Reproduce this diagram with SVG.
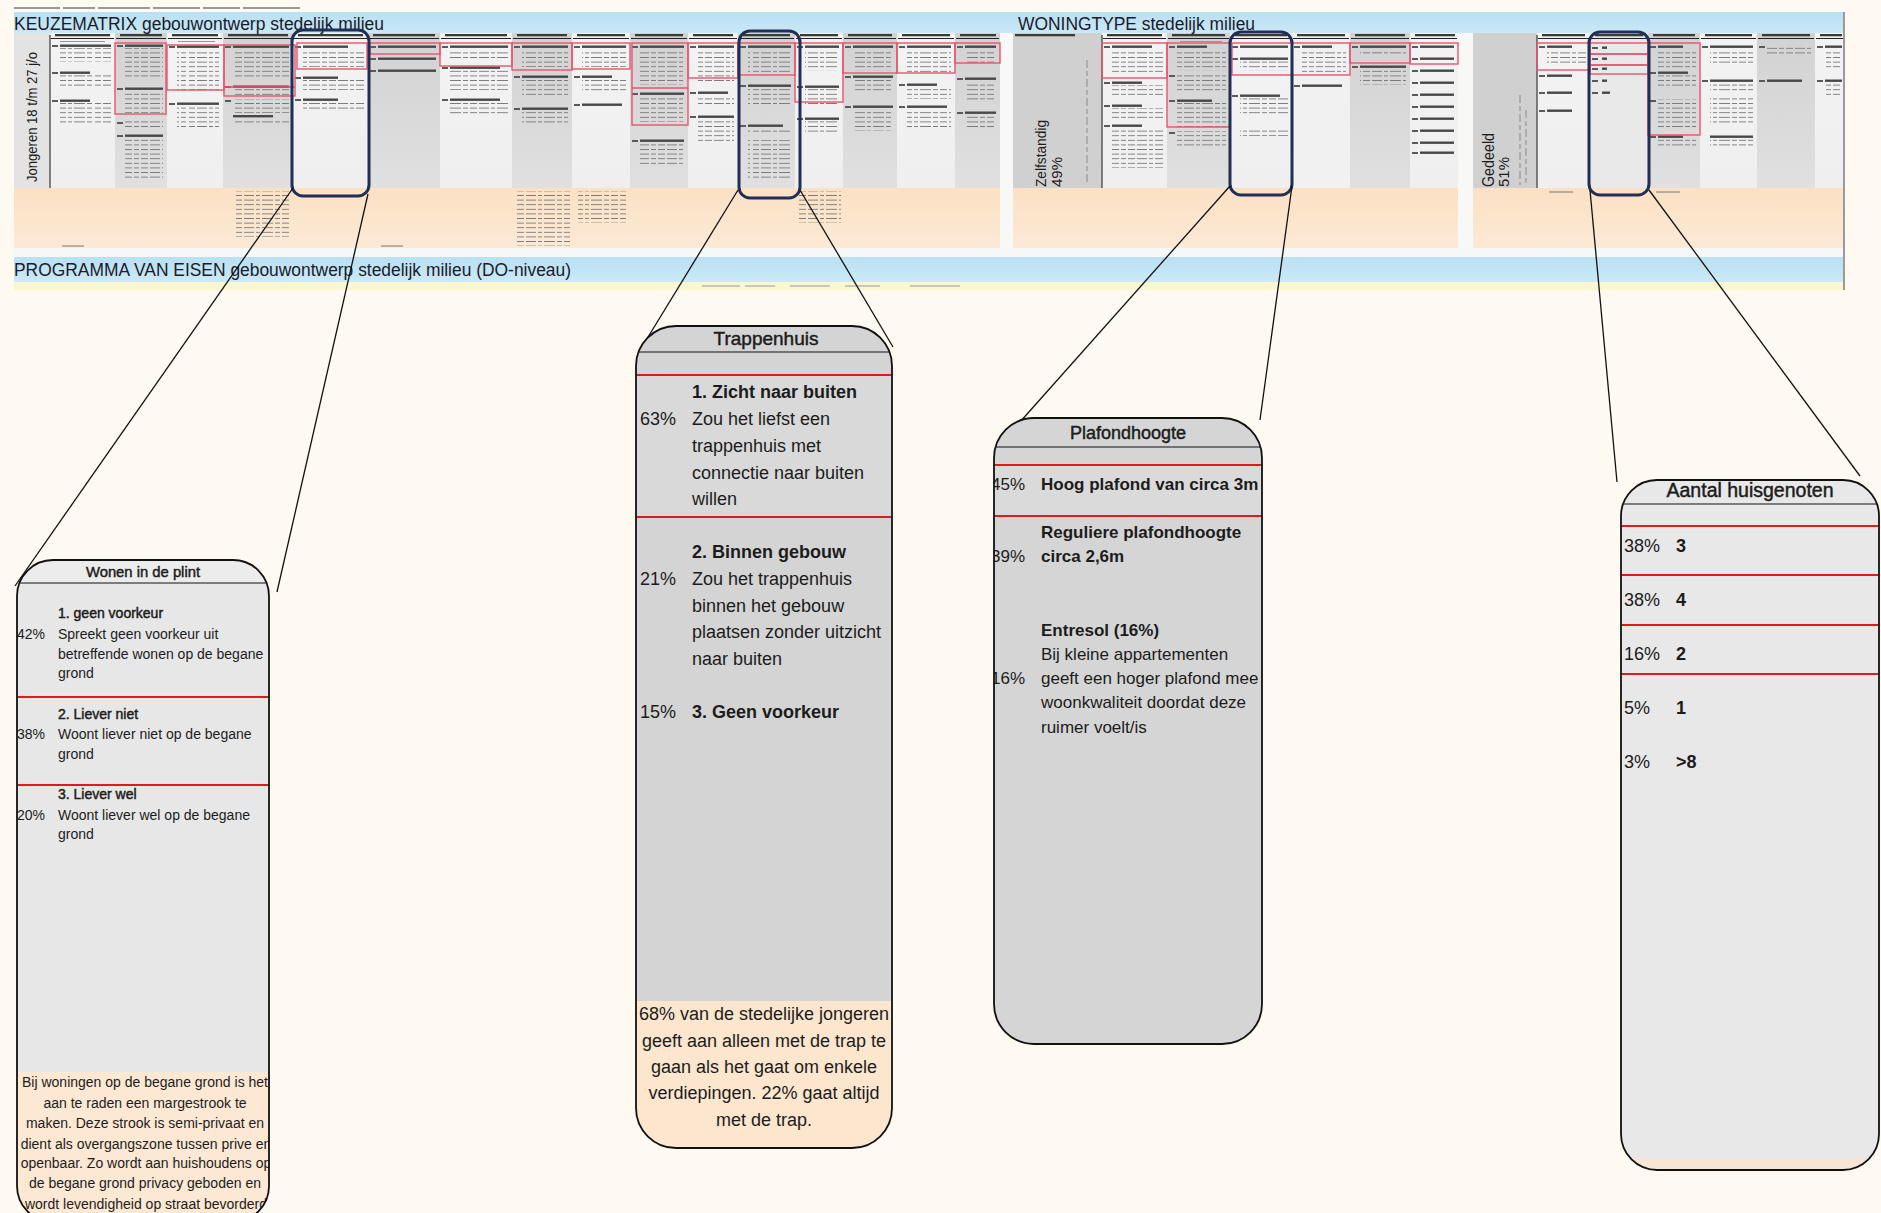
<svg xmlns="http://www.w3.org/2000/svg" width="1881" height="1213" viewBox="0 0 1881 1213">
<defs>
<style>
.f{font-family:"Liberation Sans",Arial,Helvetica,sans-serif;fill:#1c1c1c}
.b{font-weight:bold}
.m{stroke:#1c1c1c;stroke-width:0.45}
.tt{font-size:17.5px;fill:#1b1b2b}
.cl{fill:none;stroke:#111;stroke-width:1.3}
.hl{fill:none;stroke:#1f2f57;stroke-width:3}
.rb{fill:none;stroke:#e8536f;stroke-width:1.4}
.rl{stroke:#e01b1b;stroke-width:2}
.hline{stroke:#111;stroke-width:1.2}
.box{fill:none;stroke:#111;stroke-width:1.8}
.pc{fill:#5a5a5a}
.tb{fill:#484848}
.hb{fill:#3a3a3a}
.tx{fill:url(#tx)}
.ul{stroke:#222;stroke-width:1}
.w{fill:url(#wcol)}
.g{fill:url(#gcol)}
.pe{fill:url(#peach)}
</style>
<pattern id="tx" patternUnits="userSpaceOnUse" width="47" height="4.6">
<path d="M0 2.3H7M9 2.3H19M21 2.3H25M27 2.3H38M40 2.3H45" stroke="#7c7c7c" stroke-width="1.1"/>
</pattern>
<linearGradient id="gcol" x1="0" y1="0" x2="0" y2="1"><stop offset="0" stop-color="#d2d2d2"/><stop offset="1" stop-color="#e0e0e0"/></linearGradient>
<linearGradient id="wcol" x1="0" y1="0" x2="0" y2="1"><stop offset="0" stop-color="#f3f3f3"/><stop offset="1" stop-color="#efefef"/></linearGradient>
<linearGradient id="peach" x1="0" y1="0" x2="0" y2="1"><stop offset="0" stop-color="#fbe1c4"/><stop offset="1" stop-color="#fce9d6"/></linearGradient>
<linearGradient id="blue" x1="0" y1="0" x2="0" y2="1"><stop offset="0" stop-color="#b9e0f3"/><stop offset="1" stop-color="#cce9f6"/></linearGradient>
<clipPath id="clipA"><rect x="17" y="560" width="252" height="662" rx="36"/></clipPath>
<clipPath id="clipB"><rect x="636" y="326" width="256" height="822" rx="40"/></clipPath>
<clipPath id="clipC"><rect x="994" y="418" width="268" height="626" rx="40"/></clipPath>
<clipPath id="clipD"><rect x="1621" y="480" width="258" height="690" rx="36"/></clipPath>
</defs>

<rect width="1881" height="1213" fill="#fefaf1"/>

<g id="matrix">
<path d="M14 8H60M63 8H95M98 8H150M153 8H200M203 8H240M243 8H300" stroke="#7a7a7a" stroke-width="1.4"/>
<rect x="14" y="12" width="1830" height="24" fill="url(#blue)"/>
<rect x="14" y="248" width="1830" height="9" fill="#f6f8f8"/>
<rect x="14" y="257" width="1830" height="25" fill="url(#blue)"/>
<rect x="14" y="282" width="1830" height="8" fill="#faf6d2"/>
<path d="M702 286H740M745 286H775M790 286H830M845 286H880M910 286H960" stroke="#999" stroke-width="1.2"/>
<line x1="1844" y1="12" x2="1844" y2="290" stroke="#9a9a9a" stroke-width="2"/>

<rect x="1000" y="33" width="13" height="215" fill="#f8f8f6"/>
<rect x="1458" y="33" width="15" height="215" fill="#f8f8f6"/>

<!-- panel 1 -->
<rect x="14" y="33" width="36" height="155" fill="#e3e3e3"/>
<rect x="50" y="33" width="65" height="155" class="w"/>
<rect x="115" y="33" width="52" height="155" class="g"/>
<rect x="167" y="33" width="56" height="155" class="w"/>
<rect x="223" y="33" width="70" height="155" class="g"/>
<rect x="293" y="33" width="75" height="155" class="w"/>
<rect x="368" y="33" width="72" height="155" class="g"/>
<rect x="440" y="33" width="72" height="155" class="w"/>
<rect x="512" y="33" width="60" height="155" class="g"/>
<rect x="572" y="33" width="58" height="155" class="w"/>
<rect x="630" y="33" width="58" height="155" class="g"/>
<rect x="688" y="33" width="50" height="155" class="w"/>
<rect x="738" y="33" width="57" height="155" class="g"/>
<rect x="795" y="33" width="48" height="155" class="w"/>
<rect x="843" y="33" width="54" height="155" class="g"/>
<rect x="897" y="33" width="58" height="155" class="w"/>
<rect x="955" y="33" width="45" height="155" class="g"/>
<rect x="14" y="188" width="986" height="60" class="pe"/>
<line x1="50" y1="35" x2="50" y2="188" stroke="#444" stroke-width="1.3"/>
<text class="f" font-size="15.5" fill="#333" transform="translate(37 182) rotate(-90)" textLength="130" lengthAdjust="spacingAndGlyphs">Jongeren 18 t/m 27 j/o</text>

<!-- panel 2 -->
<rect x="1013" y="33" width="89" height="155" fill="#d0d0d0"/>
<rect x="1102" y="33" width="65" height="155" class="w"/>
<rect x="1167" y="33" width="63" height="155" class="g"/>
<rect x="1230" y="33" width="62" height="155" class="w"/>
<rect x="1292" y="33" width="58" height="155" fill="#f1f1f1"/>
<rect x="1350" y="33" width="60" height="155" class="g"/>
<rect x="1410" y="33" width="48" height="155" class="w"/>
<rect x="1013" y="188" width="445" height="60" class="pe"/>
<line x1="1102" y1="35" x2="1102" y2="188" stroke="#444" stroke-width="1.3"/>
<path d="M1087 60V185" stroke="#8a8a8a" stroke-width="1" stroke-dasharray="8 3 5 3"/>
<text class="f" font-size="15.5" fill="#333" transform="translate(1046 187) rotate(-90)" textLength="67" lengthAdjust="spacingAndGlyphs">Zelfstandig</text>
<text class="f" font-size="15" fill="#333" transform="translate(1062 187) rotate(-90)">49%</text>

<!-- panel 3 -->
<rect x="1473" y="33" width="64" height="155" fill="#d0d0d0"/>
<rect x="1537" y="33" width="53" height="155" class="w"/>
<rect x="1590" y="33" width="58" height="155" fill="#e9e9e9"/>
<rect x="1648" y="33" width="52" height="155" class="g"/>
<rect x="1700" y="33" width="57" height="155" class="w"/>
<rect x="1757" y="33" width="58" height="155" class="g"/>
<rect x="1815" y="33" width="28" height="155" class="w"/>
<rect x="1473" y="188" width="370" height="60" class="pe"/>
<line x1="1537" y1="35" x2="1537" y2="188" stroke="#444" stroke-width="1.3"/>
<path d="M1520 95V185M1526 110V185" stroke="#8a8a8a" stroke-width="1" stroke-dasharray="8 3 5 3"/>
<text class="f" font-size="16" fill="#333" transform="translate(1494 187) rotate(-90)" textLength="54" lengthAdjust="spacingAndGlyphs">Gedeeld</text>
<text class="f" font-size="15" fill="#333" transform="translate(1509 187) rotate(-90)">51%</text>

<!-- column headers -->
<g class="hb">
<rect x="55" y="34" width="55" height="2.3"/><rect x="120" y="34" width="42" height="2.3"/><rect x="172" y="34" width="46" height="2.3"/><rect x="228" y="34" width="60" height="2.3"/><rect x="298" y="34" width="65" height="2.3"/><rect x="373" y="34" width="62" height="2.3"/><rect x="445" y="34" width="62" height="2.3"/><rect x="517" y="34" width="50" height="2.3"/><rect x="577" y="34" width="48" height="2.3"/><rect x="635" y="34" width="48" height="2.3"/><rect x="693" y="34" width="40" height="2.3"/><rect x="743" y="34" width="47" height="2.3"/><rect x="800" y="34" width="38" height="2.3"/><rect x="848" y="34" width="44" height="2.3"/><rect x="902" y="34" width="48" height="2.3"/><rect x="960" y="34" width="36" height="2.3"/>
<rect x="1015" y="34" width="60" height="2.3"/><rect x="1107" y="34" width="55" height="2.3"/><rect x="1172" y="34" width="53" height="2.3"/><rect x="1235" y="34" width="52" height="2.3"/><rect x="1297" y="34" width="48" height="2.3"/><rect x="1355" y="34" width="50" height="2.3"/><rect x="1415" y="34" width="40" height="2.3"/>
<rect x="1542" y="34" width="43" height="2.3"/><rect x="1595" y="34" width="48" height="2.3"/><rect x="1653" y="34" width="42" height="2.3"/><rect x="1705" y="34" width="47" height="2.3"/><rect x="1762" y="34" width="48" height="2.3"/><rect x="1820" y="34" width="22" height="2.3"/>
</g>
<path class="ul" d="M51 38.5H114M116 38.5H166M168 38.5H222M224 38.5H292M294 38.5H367M369 38.5H439M441 38.5H511M513 38.5H571M573 38.5H629M631 38.5H687M689 38.5H737M739 38.5H794M796 38.5H842M844 38.5H896M898 38.5H954M956 38.5H999M1103 38.5H1166M1168 38.5H1229M1231 38.5H1291M1293 38.5H1349M1351 38.5H1409M1411 38.5H1457M1538 38.5H1589M1591 38.5H1647M1649 38.5H1699M1701 38.5H1756M1758 38.5H1814M1816 38.5H1843"/>
<path d="M60 41.5H105M178 41.5H215M1180 41.5H1222" stroke="#999" stroke-width="1"/>

<g>
<rect class="pc" x="52" y="45" width="6" height="2"/><rect class="tb" x="60" y="44.5" width="51" height="2.4"/><rect class="tx" x="60" y="48" width="51" height="14"/>
<rect class="pc" x="52" y="72" width="6" height="2"/><rect class="tb" x="60" y="71.5" width="30" height="2.4"/><rect class="tx" x="60" y="75" width="51" height="14"/>
<rect class="pc" x="52" y="100" width="6" height="2"/><rect class="tb" x="60" y="99.5" width="30" height="2.4"/><rect class="tx" x="60" y="103" width="51" height="20"/>

<rect class="pc" x="117" y="45" width="6" height="2"/><rect class="tb" x="125" y="44.5" width="38" height="2.4"/><rect class="tx" x="125" y="48" width="38" height="30"/>
<rect class="pc" x="117" y="88" width="6" height="2"/><rect class="tb" x="125" y="87.5" width="38" height="2.4"/><rect class="tx" x="125" y="91" width="38" height="22"/>
<rect class="pc" x="117" y="122" width="6" height="2"/><rect class="tx" x="125" y="121" width="38" height="9"/>
<rect class="pc" x="117" y="135" width="6" height="2"/><rect class="tb" x="125" y="134.5" width="38" height="2.4"/><rect class="tx" x="125" y="138" width="38" height="40"/>

<rect class="pc" x="169" y="46" width="6" height="2"/><rect class="tb" x="177" y="45.5" width="42" height="2.4"/><rect class="tx" x="177" y="49" width="42" height="42"/>
<rect class="pc" x="169" y="103" width="6" height="2"/><rect class="tb" x="177" y="102.5" width="42" height="2.4"/><rect class="tx" x="177" y="106" width="42" height="22"/>

<rect class="pc" x="225" y="46" width="6" height="2"/><rect class="tb" x="233" y="45.5" width="56" height="2.4"/><rect class="tx" x="233" y="49" width="56" height="30"/>
<rect class="pc" x="225" y="86" width="6" height="2"/><rect class="tb" x="233" y="85.5" width="56" height="2.4"/><rect class="tx" x="233" y="89" width="56" height="8"/>
<rect class="pc" x="225" y="100" width="6" height="2"/><rect class="tx" x="233" y="99" width="56" height="14"/>
<rect class="tb" x="233" y="115" width="40" height="2.4"/><rect class="tx" x="233" y="118" width="56" height="5"/>

<rect class="pc" x="295" y="46" width="6" height="2"/><rect class="tb" x="303" y="45.5" width="45" height="2.4"/><rect class="tx" x="303" y="49" width="61" height="18"/>
<rect class="pc" x="295" y="77" width="6" height="2"/><rect class="tb" x="303" y="76.5" width="35" height="2.4"/><rect class="tx" x="303" y="80" width="61" height="10"/>
<rect class="pc" x="295" y="99" width="6" height="2"/><rect class="tb" x="303" y="98.5" width="35" height="2.4"/><rect class="tx" x="303" y="102" width="61" height="10"/>

<rect class="pc" x="370" y="46" width="6" height="2"/><rect class="tb" x="378" y="45.5" width="58" height="2.4"/>
<rect class="pc" x="370" y="58" width="6" height="2"/><rect class="tb" x="378" y="57.5" width="58" height="2.4"/>
<rect class="pc" x="370" y="70" width="6" height="2"/><rect class="tb" x="378" y="69.5" width="58" height="2.4"/>

<rect class="pc" x="442" y="46" width="6" height="2"/><rect class="tb" x="450" y="45.5" width="58" height="2.4"/><rect class="tx" x="450" y="49" width="58" height="10"/>
<rect class="pc" x="442" y="67" width="6" height="2"/><rect class="tb" x="450" y="66.5" width="50" height="2.4"/><rect class="tx" x="450" y="70" width="58" height="20"/>
<rect class="pc" x="442" y="99" width="6" height="2"/><rect class="tb" x="450" y="98.5" width="50" height="2.4"/><rect class="tx" x="450" y="102" width="58" height="14"/>

<rect class="pc" x="514" y="46" width="6" height="2"/><rect class="tb" x="522" y="45.5" width="46" height="2.4"/><rect class="tx" x="522" y="49" width="46" height="18"/>
<rect class="pc" x="514" y="76" width="6" height="2"/><rect class="tb" x="522" y="75.5" width="46" height="2.4"/><rect class="tx" x="522" y="79" width="46" height="18"/>
<rect class="pc" x="514" y="108" width="6" height="2"/><rect class="tb" x="522" y="107.5" width="46" height="2.4"/><rect class="tx" x="522" y="111" width="46" height="14"/>

<rect class="pc" x="574" y="46" width="6" height="2"/><rect class="tb" x="582" y="45.5" width="44" height="2.4"/><rect class="tx" x="582" y="49" width="44" height="18"/>
<rect class="pc" x="574" y="76" width="6" height="2"/><rect class="tb" x="582" y="75.5" width="30" height="2.4"/><rect class="tx" x="582" y="79" width="44" height="12"/>
<rect class="pc" x="574" y="104" width="6" height="2"/><rect class="tb" x="582" y="103.5" width="40" height="2.4"/>

<rect class="pc" x="632" y="46" width="6" height="2"/><rect class="tb" x="640" y="45.5" width="44" height="2.4"/><rect class="tx" x="640" y="49" width="44" height="36"/>
<rect class="pc" x="632" y="93" width="6" height="2"/><rect class="tb" x="640" y="92.5" width="44" height="2.4"/><rect class="tx" x="640" y="96" width="44" height="26"/>
<rect class="pc" x="632" y="140" width="6" height="2"/><rect class="tb" x="640" y="139.5" width="44" height="2.4"/><rect class="tx" x="640" y="143" width="44" height="22"/>

<rect class="pc" x="690" y="46" width="6" height="2"/><rect class="tb" x="698" y="45.5" width="36" height="2.4"/><rect class="tx" x="698" y="49" width="36" height="34"/>
<rect class="pc" x="690" y="92" width="6" height="2"/><rect class="tb" x="698" y="91.5" width="30" height="2.4"/><rect class="tx" x="698" y="95" width="36" height="10"/>
<rect class="pc" x="690" y="116" width="6" height="2"/><rect class="tb" x="698" y="115.5" width="36" height="2.4"/><rect class="tx" x="698" y="119" width="36" height="22"/>

<rect class="pc" x="740" y="46" width="6" height="2"/><rect class="tb" x="748" y="45.5" width="43" height="2.4"/><rect class="tx" x="748" y="49" width="43" height="24"/>
<rect class="pc" x="740" y="85" width="6" height="2"/><rect class="tb" x="748" y="84.5" width="43" height="2.4"/><rect class="tx" x="748" y="88" width="43" height="18"/>
<rect class="pc" x="740" y="125" width="6" height="2"/><rect class="tb" x="748" y="124.5" width="35" height="2.4"/><rect class="tx" x="748" y="128" width="43" height="4"/>
<rect class="tx" x="748" y="140" width="43" height="40"/>

<rect class="pc" x="797" y="46" width="6" height="2"/><rect class="tb" x="805" y="45.5" width="34" height="2.4"/><rect class="tx" x="805" y="49" width="34" height="22"/>
<rect class="pc" x="797" y="86" width="6" height="2"/><rect class="tb" x="805" y="85.5" width="34" height="2.4"/><rect class="tx" x="805" y="89" width="34" height="18"/>
<rect class="pc" x="797" y="118" width="6" height="2"/><rect class="tb" x="805" y="117.5" width="34" height="2.4"/><rect class="tx" x="805" y="121" width="34" height="14"/>

<rect class="pc" x="845" y="46" width="6" height="2"/><rect class="tb" x="853" y="45.5" width="40" height="2.4"/><rect class="tx" x="853" y="49" width="40" height="22"/>
<rect class="pc" x="845" y="76" width="6" height="2"/><rect class="tb" x="853" y="75.5" width="40" height="2.4"/><rect class="tx" x="853" y="79" width="40" height="14"/>
<rect class="pc" x="845" y="106" width="6" height="2"/><rect class="tb" x="853" y="105.5" width="40" height="2.4"/><rect class="tx" x="853" y="109" width="40" height="22"/>

<rect class="pc" x="899" y="46" width="6" height="2"/><rect class="tb" x="907" y="45.5" width="44" height="2.4"/><rect class="tx" x="907" y="49" width="44" height="24"/>
<rect class="pc" x="899" y="84" width="6" height="2"/><rect class="tb" x="907" y="83.5" width="30" height="2.4"/><rect class="tx" x="907" y="87" width="44" height="12"/>
<rect class="pc" x="899" y="106" width="6" height="2"/><rect class="tb" x="907" y="105.5" width="40" height="2.4"/><rect class="tx" x="907" y="109" width="44" height="18"/>

<rect class="pc" x="957" y="46" width="6" height="2"/><rect class="tb" x="965" y="45.5" width="31" height="2.4"/><rect class="tx" x="965" y="49" width="31" height="14"/>
<rect class="pc" x="957" y="78" width="6" height="2"/><rect class="tb" x="965" y="77.5" width="31" height="2.4"/><rect class="tx" x="965" y="81" width="31" height="22"/>
<rect class="pc" x="957" y="112" width="6" height="2"/><rect class="tb" x="965" y="111.5" width="31" height="2.4"/><rect class="tx" x="965" y="115" width="31" height="14"/>

<rect class="pc" x="1104" y="46" width="6" height="2"/><rect class="tb" x="1112" y="45.5" width="40" height="2.4"/><rect class="tx" x="1112" y="49" width="51" height="26"/>
<rect class="pc" x="1104" y="82" width="6" height="2"/><rect class="tb" x="1112" y="81.5" width="30" height="2.4"/><rect class="tx" x="1112" y="85" width="51" height="10"/>
<rect class="pc" x="1104" y="105" width="6" height="2"/><rect class="tb" x="1112" y="104.5" width="30" height="2.4"/><rect class="tx" x="1112" y="108" width="51" height="10"/>
<rect class="pc" x="1104" y="125" width="6" height="2"/><rect class="tb" x="1112" y="124.5" width="30" height="2.4"/><rect class="tx" x="1112" y="128" width="51" height="40"/>

<rect class="pc" x="1169" y="46" width="6" height="2"/><rect class="tb" x="1177" y="45.5" width="30" height="2.4"/><rect class="tx" x="1177" y="49" width="49" height="22"/>
<rect class="pc" x="1169" y="75" width="6" height="2"/><rect class="tx" x="1177" y="74" width="49" height="18"/>
<rect class="pc" x="1169" y="100" width="6" height="2"/><rect class="tb" x="1177" y="99.5" width="35" height="2.4"/><rect class="tx" x="1177" y="103" width="49" height="24"/>
<rect class="pc" x="1169" y="132" width="6" height="2"/><rect class="tx" x="1177" y="131" width="49" height="16"/>

<rect class="pc" x="1232" y="46" width="6" height="2"/><rect class="tb" x="1240" y="45.5" width="48" height="2.4"/>
<rect class="pc" x="1232" y="58" width="6" height="2"/><rect class="tb" x="1240" y="57.5" width="48" height="2.4"/><rect class="tx" x="1240" y="61" width="48" height="10"/>
<rect class="pc" x="1232" y="95" width="6" height="2"/><rect class="tb" x="1240" y="94.5" width="40" height="2.4"/><rect class="tx" x="1240" y="98" width="48" height="18"/>
<rect class="tx" x="1240" y="128" width="48" height="8"/>

<rect class="pc" x="1294" y="46" width="6" height="2"/><rect class="tb" x="1302" y="45.5" width="30" height="2.4"/><rect class="tx" x="1302" y="49" width="44" height="26"/>
<rect class="pc" x="1294" y="85" width="6" height="2"/><rect class="tb" x="1302" y="84.5" width="40" height="2.4"/>

<rect class="pc" x="1352" y="46" width="6" height="2"/><rect class="tb" x="1360" y="45.5" width="46" height="2.4"/><rect class="tx" x="1360" y="49" width="46" height="6"/>
<rect class="pc" x="1352" y="66" width="6" height="2"/><rect class="tb" x="1360" y="65.5" width="46" height="2.4"/><rect class="tx" x="1360" y="69" width="46" height="16"/>

<rect class="pc" x="1412" y="46" width="6" height="2"/><rect class="tb" x="1420" y="45.5" width="34" height="2.4"/>
<rect class="pc" x="1412" y="58" width="6" height="2"/><rect class="tb" x="1420" y="57.5" width="34" height="2.4"/>
<rect class="pc" x="1412" y="70" width="6" height="2"/><rect class="tb" x="1420" y="69.5" width="34" height="2.4"/>
<rect class="pc" x="1412" y="82" width="6" height="2"/><rect class="tb" x="1420" y="81.5" width="34" height="2.4"/>
<rect class="pc" x="1412" y="94" width="6" height="2"/><rect class="tb" x="1420" y="93.5" width="34" height="2.4"/>
<rect class="pc" x="1412" y="106" width="6" height="2"/><rect class="tb" x="1420" y="105.5" width="34" height="2.4"/>
<rect class="pc" x="1412" y="118" width="6" height="2"/><rect class="tb" x="1420" y="117.5" width="34" height="2.4"/>
<rect class="pc" x="1412" y="130" width="6" height="2"/><rect class="tb" x="1420" y="129.5" width="34" height="2.4"/>
<rect class="pc" x="1412" y="142" width="6" height="2"/><rect class="tb" x="1420" y="141.5" width="34" height="2.4"/>
<rect class="pc" x="1412" y="152" width="6" height="2"/><rect class="tb" x="1420" y="151.5" width="34" height="2.4"/>

<rect class="pc" x="1539" y="46" width="6" height="2"/><rect class="tb" x="1547" y="45.5" width="25" height="2.4"/><rect class="tx" x="1547" y="49" width="39" height="14"/>
<rect class="pc" x="1539" y="75" width="6" height="2"/><rect class="tb" x="1547" y="74.5" width="25" height="2.4"/>
<rect class="pc" x="1539" y="92" width="6" height="2"/><rect class="tb" x="1547" y="91.5" width="25" height="2.4"/>
<rect class="pc" x="1539" y="110" width="6" height="2"/><rect class="tb" x="1547" y="109.5" width="25" height="2.4"/>

<rect class="pc" x="1592" y="47" width="6" height="2"/><rect class="tb" x="1602" y="46.5" width="5" height="2.4"/>
<rect class="pc" x="1592" y="58" width="6" height="2"/><rect class="tb" x="1602" y="57.5" width="5" height="2.4"/>
<rect class="pc" x="1592" y="68" width="6" height="2"/><rect class="tb" x="1602" y="67.5" width="5" height="2.4"/>
<rect class="pc" x="1592" y="80" width="6" height="2"/><rect class="tb" x="1602" y="79.5" width="5" height="2.4"/>
<rect class="pc" x="1592" y="92" width="6" height="2"/><rect class="tb" x="1602" y="91.5" width="8" height="2.4"/>

<rect class="pc" x="1650" y="46" width="6" height="2"/><rect class="tb" x="1658" y="45.5" width="25" height="2.4"/><rect class="tx" x="1658" y="49" width="38" height="20"/>
<rect class="pc" x="1650" y="72" width="6" height="2"/><rect class="tb" x="1658" y="71.5" width="30" height="2.4"/><rect class="tx" x="1658" y="75" width="38" height="14"/>
<rect class="pc" x="1650" y="100" width="6" height="2"/><rect class="tx" x="1658" y="99" width="38" height="30"/>
<rect class="pc" x="1650" y="136" width="6" height="2"/><rect class="tb" x="1658" y="135.5" width="25" height="2.4"/><rect class="tx" x="1658" y="139" width="38" height="10"/>

<rect class="pc" x="1702" y="46" width="6" height="2"/><rect class="tb" x="1710" y="45.5" width="43" height="2.4"/><rect class="tx" x="1710" y="49" width="43" height="14"/>
<rect class="pc" x="1702" y="80" width="6" height="2"/><rect class="tb" x="1710" y="79.5" width="43" height="2.4"/><rect class="tx" x="1710" y="83" width="43" height="8"/>
<rect class="tx" x="1710" y="96" width="43" height="28"/>
<rect class="tb" x="1710" y="135.5" width="43" height="2.4"/><rect class="tx" x="1710" y="139" width="43" height="10"/>

<rect class="pc" x="1759" y="46" width="6" height="2"/><rect class="tx" x="1767" y="45" width="44" height="10"/>
<rect class="pc" x="1759" y="80" width="6" height="2"/><rect class="tb" x="1767" y="79.5" width="35" height="2.4"/>

<rect class="pc" x="1817" y="46" width="6" height="2"/><rect class="tb" x="1825" y="45.5" width="17" height="2.4"/><rect class="tx" x="1825" y="49" width="17" height="20"/>
<rect class="pc" x="1817" y="80" width="6" height="2"/><rect class="tb" x="1825" y="79.5" width="17" height="2.4"/><rect class="tx" x="1825" y="83" width="17" height="14"/>

<rect class="tx" x="236" y="191" width="54" height="46"/>
<rect class="tx" x="516" y="191" width="54" height="55"/>
<rect class="tx" x="578" y="191" width="48" height="32"/>
<rect class="tx" x="798" y="191" width="43" height="32"/>
<path d="M62 246H84M381 246H403M1549 192H1573M1656 192H1680" stroke="#777" stroke-width="1.2"/>
</g>

<g class="rb">
<rect x="115" y="43" width="51" height="71"/>
<rect x="167" y="45" width="57" height="45"/>
<rect x="224" y="45" width="71" height="51"/>
<line x1="224" y1="87" x2="295" y2="87"/>
<rect x="297" y="43" width="70" height="26"/>
<rect x="370" y="43" width="70" height="11"/>
<rect x="440" y="43" width="72" height="23"/>
<rect x="512" y="43" width="60" height="27"/>
<rect x="572" y="43" width="58" height="26"/>
<rect x="632" y="43" width="56" height="82"/>
<line x1="632" y1="88" x2="688" y2="88"/>
<rect x="688" y="43" width="50" height="35"/>
<rect x="738" y="43" width="57" height="32"/>
<rect x="795" y="43" width="48" height="59"/>
<rect x="843" y="43" width="54" height="30"/>
<rect x="897" y="43" width="58" height="30"/>
<rect x="955" y="43" width="45" height="20"/>
<rect x="1102" y="43" width="65" height="35"/>
<rect x="1167" y="43" width="63" height="84"/>
<rect x="1232" y="43" width="60" height="32"/>
<rect x="1292" y="43" width="58" height="32"/>
<rect x="1350" y="43" width="60" height="20"/>
<rect x="1410" y="43" width="48" height="21"/>
<rect x="1537" y="43" width="53" height="27"/>
<rect x="1590" y="43" width="58" height="11"/>
<rect x="1590" y="54" width="58" height="11"/>
<rect x="1590" y="65" width="58" height="9"/>
<rect x="1648" y="43" width="52" height="92"/>
</g>

<text class="f tt" x="14" y="29.5" textLength="370" lengthAdjust="spacingAndGlyphs">KEUZEMATRIX gebouwontwerp stedelijk milieu</text>
<text class="f tt" x="1018" y="29.5" textLength="237" lengthAdjust="spacingAndGlyphs">WONINGTYPE stedelijk milieu</text>
<text class="f tt" x="14" y="276" textLength="557" lengthAdjust="spacingAndGlyphs">PROGRAMMA VAN EISEN gebouwontwerp stedelijk milieu (DO-niveau)</text>
</g>

<g id="hl-wonen"><rect class="hl" x="292" y="30" width="77" height="166" rx="11"/></g>
<g id="hl-trappenhuis"><rect class="hl" x="739" y="31" width="61" height="167" rx="11"/></g>
<g id="hl-plafondhoogte"><rect class="hl" x="1230" y="32" width="62" height="163" rx="11"/></g>
<g id="hl-huisgenoten"><rect class="hl" x="1589" y="32" width="60" height="163" rx="11"/></g>

<g id="connectors">
<line class="cl" x1="293" y1="188" x2="15" y2="586"/>
<line class="cl" x1="368" y1="194" x2="277" y2="592"/>
<line class="cl" x1="738" y1="190" x2="645" y2="342"/>
<line class="cl" x1="800" y1="190" x2="893" y2="347"/>
<line class="cl" x1="1230" y1="186" x2="1020" y2="422"/>
<line class="cl" x1="1292" y1="186" x2="1260" y2="420"/>
<line class="cl" x1="1590" y1="190" x2="1617" y2="482"/>
<line class="cl" x1="1649" y1="190" x2="1860" y2="476"/>
</g>

<g id="callout-wonen">
<g clip-path="url(#clipA)">
<rect x="17" y="560" width="252" height="662" fill="#e7e7e7"/>
<rect x="17" y="560" width="252" height="23" fill="#ececec"/>
<rect x="17" y="1072" width="252" height="150" fill="#fde8d4"/>
<line class="hline" x1="17" y1="583" x2="269" y2="583"/>
<line class="rl" x1="17" y1="697" x2="269" y2="697"/>
<line class="rl" x1="17" y1="785" x2="269" y2="785"/>
<text class="f m" font-size="14.8" x="143" y="577" text-anchor="middle">Wonen in de plint</text>
<g class="f" font-size="14">
<text class="m" x="58" y="618">1. geen voorkeur</text>
<text x="17" y="639">42%</text><text x="58" y="639">Spreekt geen voorkeur uit</text>
<text x="58" y="659">betreffende wonen op de begane</text>
<text x="58" y="678">grond</text>
<text class="m" x="58" y="719">2. Liever niet</text>
<text x="17" y="739">38%</text><text x="58" y="739">Woont liever niet op de begane</text>
<text x="58" y="759">grond</text>
<text class="m" x="58" y="799">3. Liever wel</text>
<text x="17" y="820">20%</text><text x="58" y="820">Woont liever wel op de begane</text>
<text x="58" y="839">grond</text>
</g>
<g class="f" font-size="14" text-anchor="middle">
<text x="145" y="1087">Bij woningen op de begane grond is het</text>
<text x="145" y="1108">aan te raden een margestrook te</text>
<text x="145" y="1128">maken. Deze strook is semi-privaat en</text>
<text x="146" y="1149">dient als overgangszone tussen prive en</text>
<text x="146" y="1168">openbaar. Zo wordt aan huishoudens op</text>
<text x="145" y="1188">de begane grond privacy geboden en</text>
<text x="146" y="1209">wordt levendigheid op straat bevorderd</text>
</g>
</g>
<rect class="box" x="17" y="560" width="252" height="662" rx="36"/>
</g>

<g id="callout-trappenhuis">
<g clip-path="url(#clipB)">
<rect x="636" y="326" width="256" height="822" fill="#d4d4d4"/>
<rect x="636" y="375" width="256" height="142" fill="#d9d9d9"/>
<rect x="636" y="1001" width="256" height="147" fill="#fde6ce"/>
<line class="hline" x1="636" y1="352" x2="892" y2="352"/>
<line class="rl" x1="636" y1="375" x2="892" y2="375"/>
<line class="rl" x1="636" y1="517" x2="892" y2="517"/>
<text class="f m" font-size="19" x="766" y="345" text-anchor="middle">Trappenhuis</text>
<g class="f" font-size="18">
<text class="b" x="692" y="398">1. Zicht naar buiten</text>
<text x="640" y="425">63%</text><text x="692" y="425">Zou het liefst een</text>
<text x="692" y="452">trappenhuis met</text>
<text x="692" y="479">connectie naar buiten</text>
<text x="692" y="505">willen</text>
<text class="b" x="692" y="558">2. Binnen gebouw</text>
<text x="640" y="585">21%</text><text x="692" y="585">Zou het trappenhuis</text>
<text x="692" y="612">binnen het gebouw</text>
<text x="692" y="638">plaatsen zonder uitzicht</text>
<text x="692" y="665">naar buiten</text>
<text x="640" y="718">15%</text><text class="b" x="692" y="718">3. Geen voorkeur</text>
</g>
<g class="f" font-size="18" text-anchor="middle">
<text x="764" y="1020">68% van de stedelijke jongeren</text>
<text x="764" y="1047">geeft aan alleen met de trap te</text>
<text x="764" y="1073">gaan als het gaat om enkele</text>
<text x="764" y="1099">verdiepingen. 22% gaat altijd</text>
<text x="764" y="1126">met de trap.</text>
</g>
</g>
<rect class="box" x="636" y="326" width="256" height="822" rx="40"/>
</g>

<g id="callout-plafondhoogte">
<g clip-path="url(#clipC)">
<rect x="994" y="418" width="268" height="626" fill="#d5d5d5"/>
<rect x="994" y="465" width="268" height="51" fill="#dadada"/>
<line class="hline" x1="994" y1="447" x2="1262" y2="447"/>
<line class="rl" x1="994" y1="465" x2="1262" y2="465"/>
<line class="rl" x1="994" y1="516" x2="1262" y2="516"/>
<text class="f m" font-size="18" x="1128" y="439" text-anchor="middle">Plafondhoogte</text>
<g class="f" font-size="17">
<text x="991" y="490">45%</text><text class="b" x="1041" y="490">Hoog plafond van circa 3m</text>
<text class="b" x="1041" y="538">Reguliere plafondhoogte</text>
<text x="991" y="562">39%</text><text class="b" x="1041" y="562">circa 2,6m</text>
<text class="b" x="1041" y="636">Entresol (16%)</text>
<text x="1041" y="660">Bij kleine appartementen</text>
<text x="991" y="684">16%</text><text x="1041" y="684">geeft een hoger plafond mee</text>
<text x="1041" y="708">woonkwaliteit doordat deze</text>
<text x="1041" y="733">ruimer voelt/is</text>
</g>
</g>
<rect class="box" x="994" y="418" width="268" height="626" rx="40"/>
</g>

<g id="callout-huisgenoten">
<g clip-path="url(#clipD)">
<rect x="1621" y="480" width="258" height="690" fill="#e8e8e8"/>
<rect x="1621" y="1158" width="258" height="12" fill="#f7e6d6"/>
<line class="hline" x1="1621" y1="504" x2="1879" y2="504"/>
<line class="rl" x1="1621" y1="526" x2="1879" y2="526"/>
<line class="rl" x1="1621" y1="575" x2="1879" y2="575"/>
<line class="rl" x1="1621" y1="625" x2="1879" y2="625"/>
<line class="rl" x1="1621" y1="674" x2="1879" y2="674"/>
<text class="f m" font-size="19.5" x="1750" y="497" text-anchor="middle">Aantal huisgenoten</text>
<g class="f" font-size="18">
<text x="1624" y="552">38%</text><text class="b" x="1676" y="552">3</text>
<text x="1624" y="606">38%</text><text class="b" x="1676" y="606">4</text>
<text x="1624" y="660">16%</text><text class="b" x="1676" y="660">2</text>
<text x="1624" y="714">5%</text><text class="b" x="1676" y="714">1</text>
<text x="1624" y="768">3%</text><text class="b" x="1676" y="768">&gt;8</text>
</g>
</g>
<rect class="box" x="1621" y="480" width="258" height="690" rx="36"/>
</g>
</svg>
